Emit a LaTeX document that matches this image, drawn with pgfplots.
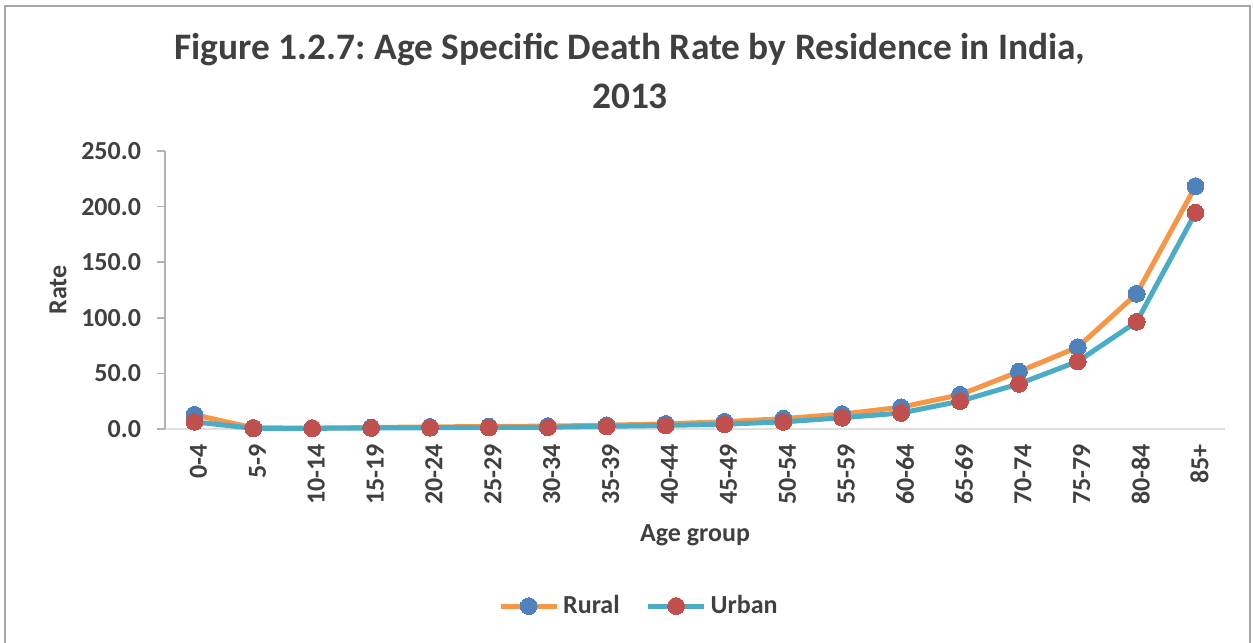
\documentclass[border=0pt]{standalone}
\usepackage{pgfplots}
\pgfplotsset{compat=1.18}
\usepackage{fontspec}
\setmainfont{Carlito}
\frenchspacing
\definecolor{txt}{HTML}{404040}
\definecolor{rurL}{HTML}{F79646}
\definecolor{rurM}{HTML}{4F81BD}
\definecolor{urbL}{HTML}{4BACC6}
\definecolor{urbM}{HTML}{C0504D}
\begin{document}
\begin{tikzpicture}[x=0.5pt,y=0.5pt]
\useasboundingbox (0,0) rectangle (1254,643);
\draw[gray!70, line width=0.8pt] (5,0) -- (5,637) -- (1250,637) -- (1250,0);
\node[font=\fontsize{18.7}{22}\selectfont\bfseries, text=txt] at (630,593) {Figure 1.2.7: Age Specific Death Rate by Residence in India,};
\node[font=\fontsize{18.7}{22}\selectfont\bfseries, text=txt] at (630,547) {2013};
\begin{axis}[
  at={(82.5pt,107pt)}, anchor=south west,
  scale only axis, width=530pt, height=139pt,
  xmin=-0.5, xmax=17.5, ymin=0, ymax=250,
  ytick={0,50,100,150,200,250},
  xtick={0,...,17},
  xticklabels={0-4,5-9,10-14,15-19,20-24,25-29,30-34,35-39,40-44,45-49,50-54,55-59,60-64,65-69,70-74,75-79,80-84,85+},
  axis x line*=bottom, axis y line*=left,
  x axis line style={draw=gray!25, line width=0.8pt},
  y axis line style={draw=gray!60, line width=0.8pt},
  major x tick style={draw=none},
  major y tick style={draw=gray!60, line width=0.8pt},
  tick align=outside, major tick length=4pt,
  yticklabel style={/pgf/number format/fixed, /pgf/number format/fixed zerofill, /pgf/number format/precision=1, /pgf/number format/assume math mode=true, font=\fontsize{13}{15}\selectfont\bfseries, text=txt, xshift=-4.5pt},
  xticklabel style={rotate=90, anchor=east, font=\fontsize{13}{15}\selectfont\bfseries, text=txt, yshift=-2pt},
  xlabel={Age group}, ylabel={Rate},
  xlabel style={at={(axis description cs:0.5,-0.381)}, anchor=center, font=\fontsize{13}{15}\selectfont\bfseries, text=txt},
  ylabel style={at={(axis description cs:-0.101,0.5)}, anchor=center, rotate=0, font=\fontsize{13}{15}\selectfont\bfseries, text=txt},
  legend style={at={(axis description cs:0.448,-0.637)}, anchor=center, draw=none, legend columns=2, font=\fontsize{13}{15}\selectfont\bfseries, text=txt, /tikz/every even column/.append style={column sep=11pt}, /tikz/every odd column/.append style={column sep=0pt}},
  legend cell align=left,
  legend image code/.code={\draw[mark repeat=2,mark phase=2,#1] plot coordinates {(0pt,0pt) (14pt,0pt) (28pt,0pt)};},
  clip=false,
]
\addplot[color=rurL, line width=2.5pt, mark=*, mark size=4.2pt, mark options={fill=rurM, draw=rurM, line width=0pt}] coordinates {
(0,12.8) (1,1.0) (2,0.8) (3,1.3) (4,1.9) (5,2.2) (6,2.6) (7,3.4) (8,4.6) (9,6.5) (10,9.3) (11,13.4) (12,19.6) (13,30.8) (14,51.6) (15,73.6) (16,121.6) (17,218.4)
};
\addlegendentry{Rural}
\addplot[color=urbL, line width=2.5pt, mark=*, mark size=4.2pt, mark options={fill=urbM, draw=urbM, line width=0pt}] coordinates {
(0,6.4) (1,0.6) (2,0.6) (3,0.9) (4,1.1) (5,1.3) (6,1.6) (7,2.4) (8,3.2) (9,4.3) (10,6.4) (11,10.1) (12,14.4) (13,25.0) (14,40.6) (15,60.8) (16,96.4) (17,194.5)
};
\addlegendentry{Urban}
\end{axis}
\end{tikzpicture}
\end{document}
